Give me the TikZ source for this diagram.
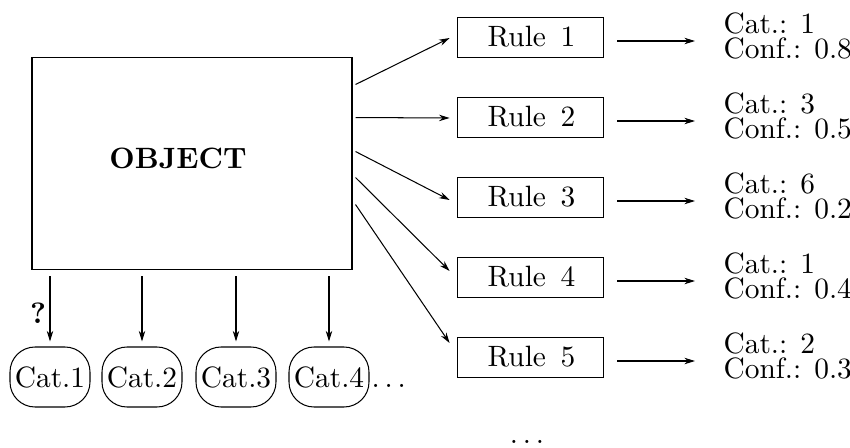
\documentclass[tikz,border=0pt]{standalone}
\usetikzlibrary{arrows.meta,calc}
\begin{document}
\begin{tikzpicture}[x=0.34pt,y=-0.34pt,
  arr/.style={-{Stealth[length=3.6pt,width=2.2pt]}, line width=0.35pt},
  objbox/.style={draw, line width=0.35pt, minimum width=108.8pt, minimum height=72.4pt, inner sep=0pt},
  rulebox/.style={draw, line width=0.3pt, minimum width=49.6pt, minimum height=13.6pt, inner sep=0pt},
  catbox/.style={draw, line width=0.35pt, rounded corners=8.5pt, minimum width=27.2pt, minimum height=20.4pt, inner sep=0.6pt},
  res/.style={align=left, anchor=north west, inner sep=0pt, font=\fontsize{10}{8.4}\selectfont}]
\useasboundingbox (0,0) rectangle (850,448);

% object box
\node[objbox] (obj) at (192,163.5) {};
\node[font=\bfseries] (objtxt) at (178,158) {OBJECT};

% category nodes
\node[catbox] (c1) at (50,377) {Cat.1};
\node[catbox] (c2) at (142,377) {Cat.2};
\node[catbox] (c3) at (236,377) {Cat.3};
\node[catbox] (c4) at (329,377) {Cat.4};
\node[anchor=base west, inner sep=0pt] (cdots) at (371,387) {$\ldots$};
\node[font=\bfseries, inner sep=0pt] (q) at (38,313) {?};

\foreach \c in {c1,c2,c3,c4}
  \draw[arr, shorten <=2pt, shorten >=1.7pt] (\c |- obj.south) -- (\c.north);

% rules
\node[rulebox] (r1) at (530,37) {\hspace{1pt}Rule\hspace{0.5em}1};
\node[rulebox] (r2) at (530,117) {\hspace{1pt}Rule\hspace{0.5em}2};
\node[rulebox] (r3) at (530,197) {\hspace{1pt}Rule\hspace{0.5em}3};
\node[rulebox] (r4) at (530,277) {\hspace{1pt}Rule\hspace{0.5em}4};
\node[rulebox] (r5) at (530,357) {\hspace{1pt}Rule\hspace{0.5em}5};

\draw[arr] ([shift={(3,28)}]obj.north east) -- ([shift={(-7,1)}]r1.west);
\draw[arr] ([shift={(3,61)}]obj.north east) -- ([shift={(-7,1)}]r2.west);
\draw[arr] ([shift={(3,95)}]obj.north east) -- ([shift={(-7,3)}]r3.west);
\draw[arr] ([shift={(3,121)}]obj.north east) -- ([shift={(-7,-6)}]r4.west);
\draw[arr] ([shift={(3,148)}]obj.north east) -- ([shift={(-7,-14)}]r5.west);

% results
\node[res] (l1) at (723,12) {Cat.: 1\\Conf.: 0.8};
\node[res] (l2) at (723,92) {Cat.: 3\\Conf.: 0.5};
\node[res] (l3) at (723,172) {Cat.: 6\\Conf.: 0.2};
\node[res] (l4) at (723,252) {Cat.: 1\\Conf.: 0.4};
\node[res] (l5) at (723,332) {Cat.: 2\\Conf.: 0.3};

\foreach \i in {1,...,5}
  \draw[arr] ([shift={(14,4)}]r\i.east) -- ($(r\i.east -| l\i.west)+(-28,4)$);

\node[anchor=base, inner sep=0pt] (bdots) at (527,443) {$\ldots$};
\end{tikzpicture}
\end{document}
